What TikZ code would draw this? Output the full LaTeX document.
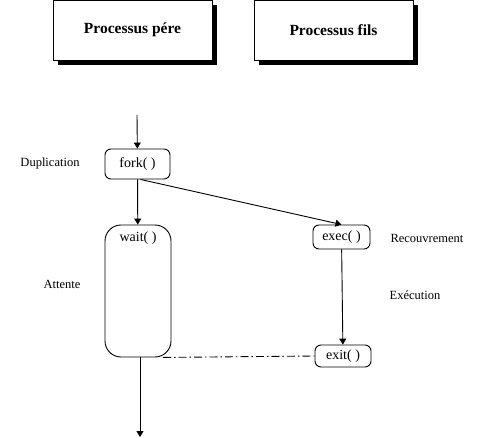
\documentclass[tikz,border=0pt]{standalone}
\usepackage{fontspec}
\setmainfont{Liberation Serif}
\usetikzlibrary{arrows.meta, shadows}

\begin{document}
\begin{tikzpicture}[x=1pt, y=-1pt, line width=0.9pt, >={Triangle[length=6pt, width=7pt]}]
\useasboundingbox (0,0) rectangle (482,438);
%\tikzstyle{titre}=[draw,fill=white,font=\bfseries]
\tikzset{
    titre/.style={draw, fill=white, minimum width=159pt, minimum height=60pt,
        font=\fontsize{15.5}{18}\selectfont\bfseries,
        drop shadow={shadow xshift=5pt, shadow yshift=-5pt, fill=black, opacity=1}},
    appel/.style={draw, rounded corners=6pt, inner sep=1pt, font=\fontsize{14}{16}\selectfont},
    note/.style={font=\fontsize{12.5}{14}\selectfont}
}
    \node[titre] (pere) at (132.5,30) {Processus pére};
    \node[titre] (fils) at (333.5,30) {Processus fils};

    \coordinate (debut) at (137,115);
    \node[appel, minimum width=65pt, minimum height=30pt] (fork) at (137.5,164) {fork( )};
    \node[appel, rounded corners=16pt, minimum width=66pt, minimum height=132pt,
        label={[font=\fontsize{14}{16}\selectfont, anchor=north, yshift=-3pt]north:wait( )}] (wait) at (138,291) {};
    \node[appel, minimum width=57pt, minimum height=24pt] (exec) at (341.5,237) {exec( )};
    \node[appel, minimum width=56pt, minimum height=22pt] (exit) at (343,356) {exit( )};
    \coordinate (fin) at (140,437);

    \node[note] (dup) at (50,163) {Duplication};
    \node[note] (att) at (62,284) {Attente};
    \node[note] (rec) at (427,238) {Recouvrement};
    \node[note] (exe) at (415,295) {Exécution};

    \path [->] (debut) edge (fork);
    \path [->] (fork) edge (wait);
    \path [->] ([xshift=3pt]fork.south) edge (exec.north);
    \path [->] (exec) edge (exit);
    \path [->] ([xshift=2pt]wait.south) edge (fin);
    \draw[dash pattern=on 8pt off 3pt on 1.5pt off 3pt] ([xshift=25pt]wait.south) -- (exit.west);
\end{tikzpicture}
\end{document}
